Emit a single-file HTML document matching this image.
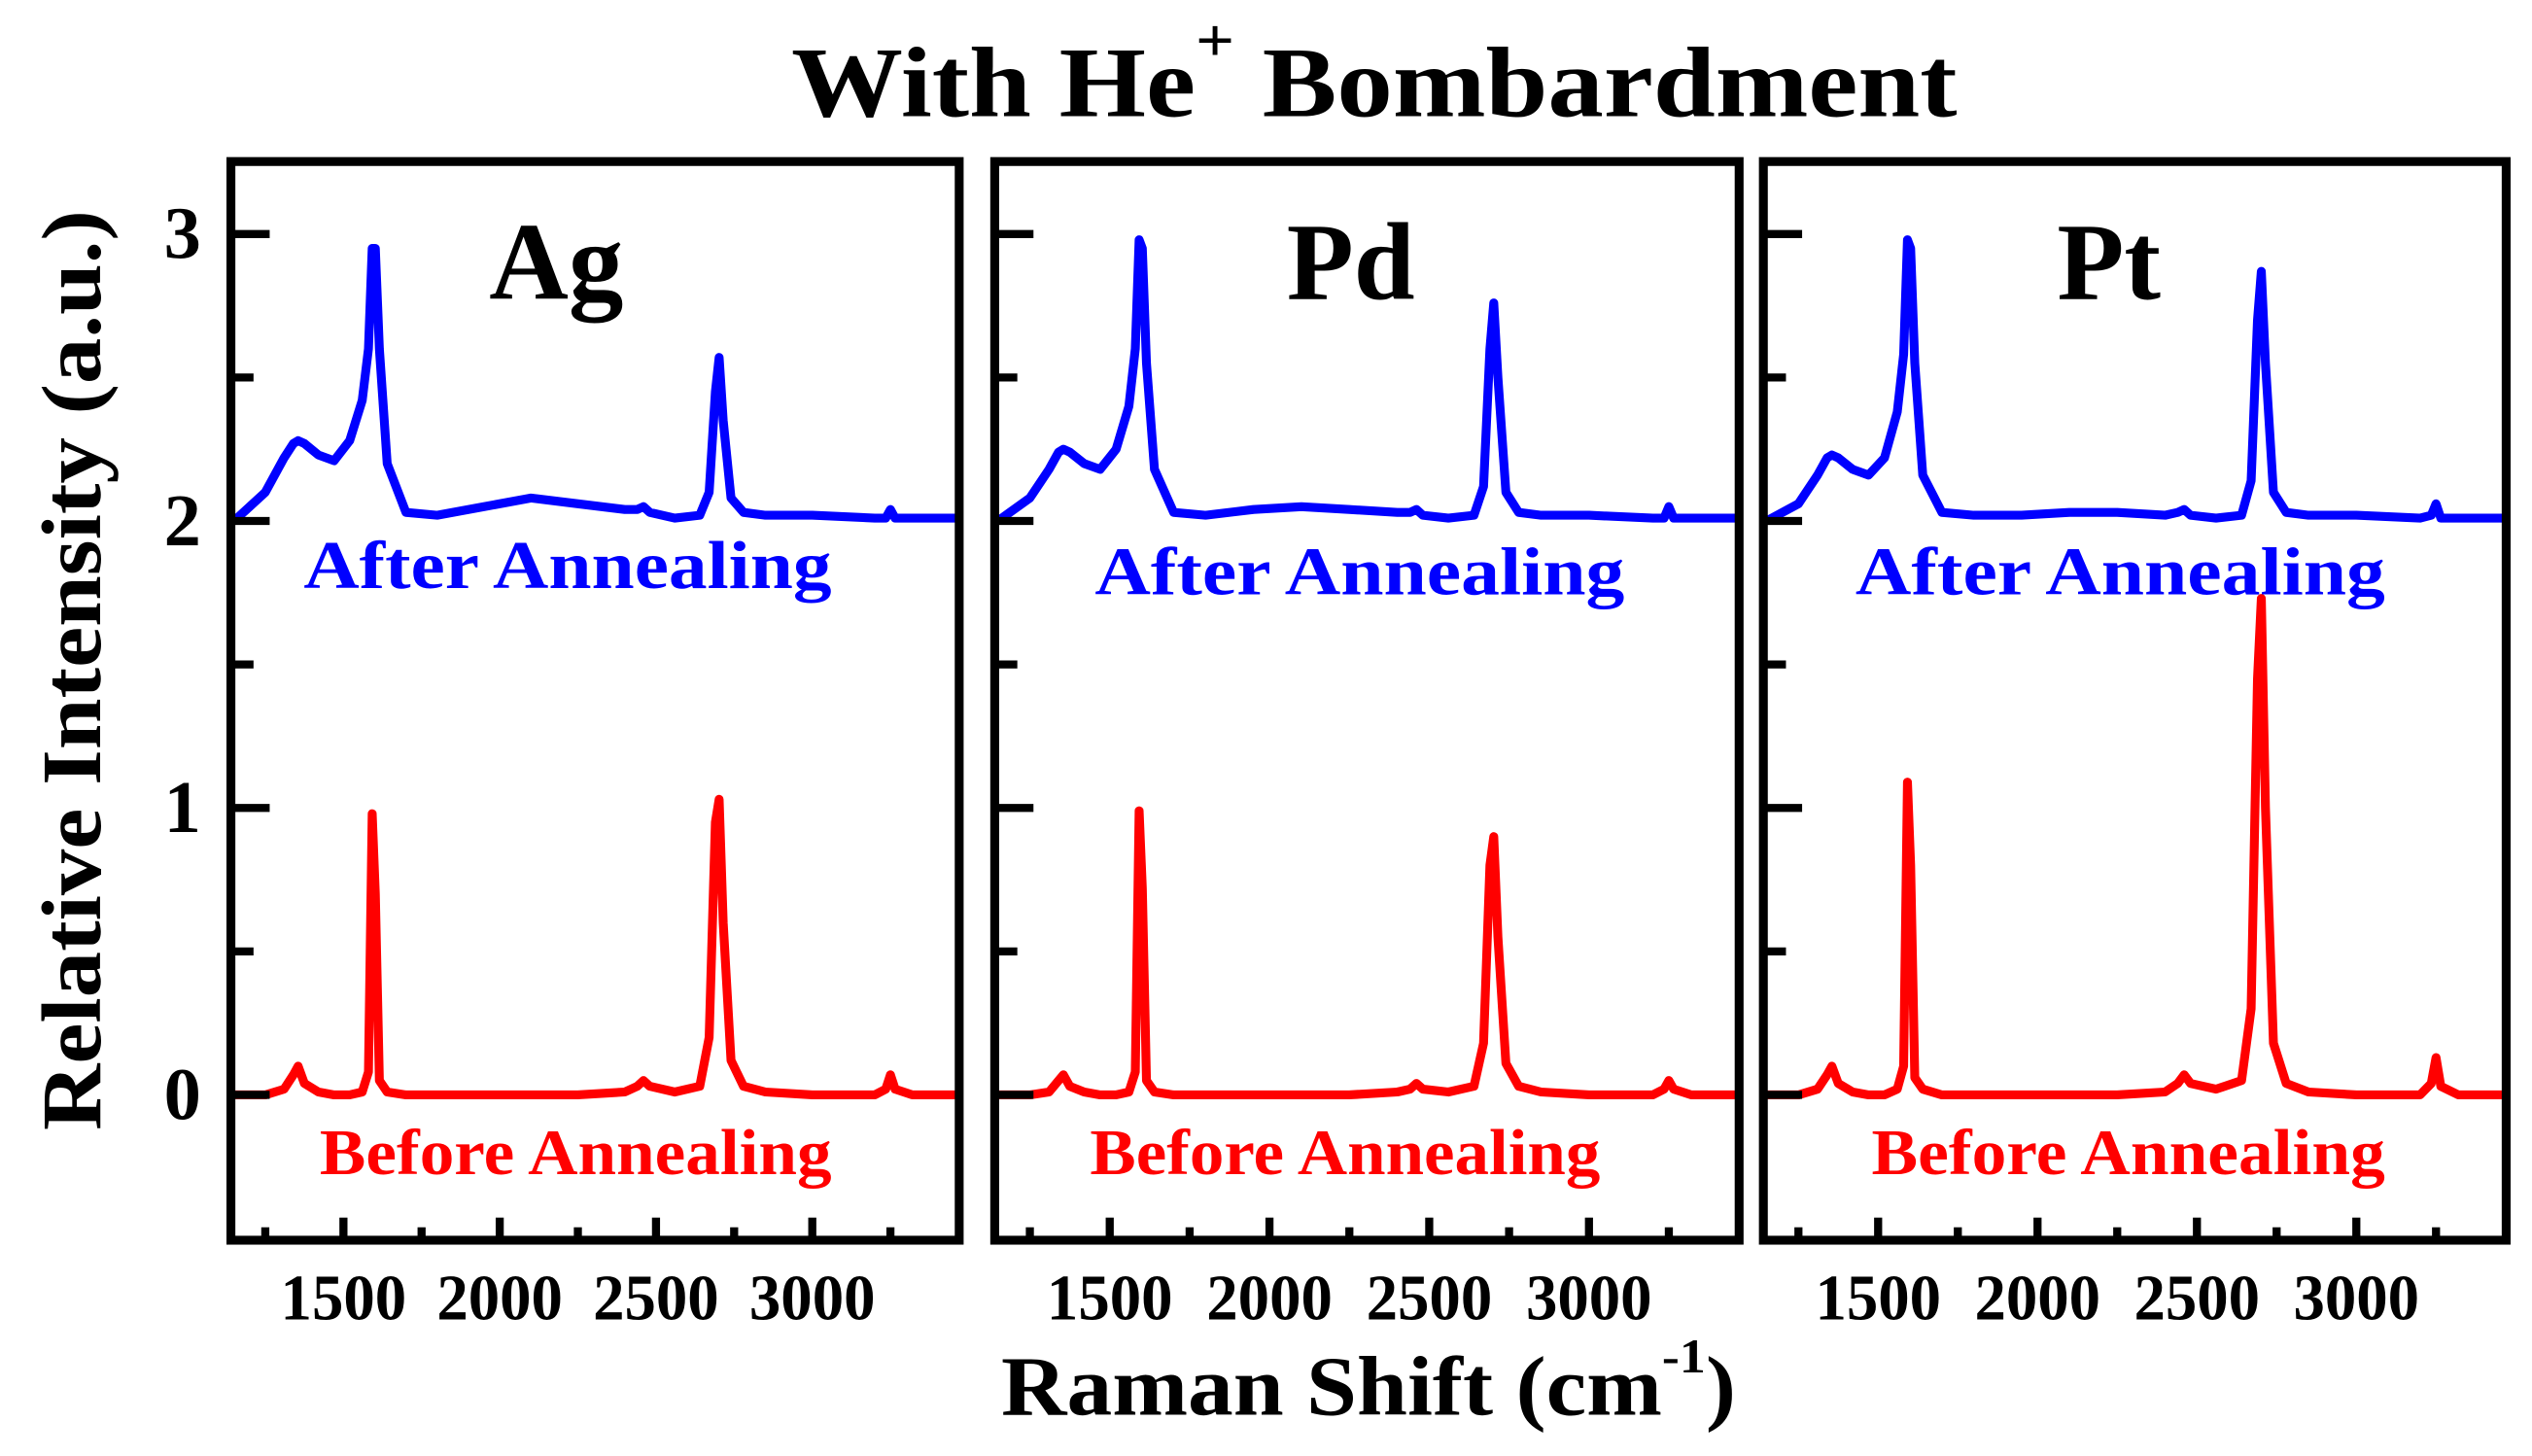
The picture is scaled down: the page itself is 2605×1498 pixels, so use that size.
<!DOCTYPE html>
<html><head><meta charset="utf-8"><style>
html,body{margin:0;padding:0;background:#fff;}
svg{display:block;}
text{font-family:"Liberation Serif",serif;font-weight:bold;}
</style></head><body>
<svg id="chart" width="2605" height="1498" viewBox="0 0 1568 901.6" xmlns="http://www.w3.org/2000/svg">
<rect width="1568" height="901.6" fill="#fff"/>
<text x="490" y="72" font-size="62" textLength="722" lengthAdjust="spacingAndGlyphs">With He<tspan dy="-34" font-size="38">+</tspan><tspan dy="34"> Bombardment</tspan></text>
<text transform="translate(62,700) rotate(-90)" font-size="52" textLength="570" lengthAdjust="spacingAndGlyphs">Relative Intensity (a.u.)</text>
<text x="620" y="876" font-size="52" textLength="455" lengthAdjust="spacingAndGlyphs">Raman Shift (cm<tspan dy="-26" font-size="30">-1</tspan><tspan dy="26">)</tspan></text>
<g id="panels"></g>
</svg>
<script>
const shifts = [1150,1250,1310,1340,1355,1375,1420,1470,1520,1560,1580,1592,1602,1615,1640,1700,1800,1950,2100,2250,2400,2440,2460,2480,2560,2640,2670,2690,2702,2715,2740,2780,2850,3000,3200,3235,3250,3265,3320,3470];
const agAfter = [2.00,2.10,2.22,2.27,2.28,2.27,2.23,2.21,2.28,2.42,2.60,2.95,2.95,2.60,2.20,2.03,2.02,2.05,2.08,2.06,2.04,2.04,2.05,2.03,2.01,2.02,2.10,2.45,2.57,2.35,2.08,2.03,2.02,2.02,2.01,2.01,2.04,2.01,2.01,2.01];
const agBefore = [0,0,0.02,0.07,0.10,0.04,0.01,0,0,0.01,0.08,0.98,0.70,0.05,0.01,0,0,0,0,0,0.01,0.03,0.05,0.03,0.01,0.03,0.20,0.95,1.03,0.60,0.12,0.03,0.01,0,0,0.02,0.07,0.02,0,0];
const pdAfter = [2.00,2.08,2.18,2.24,2.25,2.24,2.20,2.18,2.25,2.40,2.60,2.98,2.95,2.55,2.18,2.03,2.02,2.04,2.05,2.04,2.03,2.03,2.04,2.02,2.01,2.02,2.12,2.60,2.76,2.50,2.10,2.03,2.02,2.02,2.01,2.01,2.05,2.01,2.01,2.01];
const pdBefore = [0,0,0.01,0.05,0.07,0.03,0.01,0,0,0.01,0.08,0.99,0.72,0.05,0.01,0,0,0,0,0,0.01,0.02,0.04,0.02,0.01,0.03,0.18,0.80,0.90,0.55,0.11,0.03,0.01,0,0,0.02,0.05,0.02,0,0];
const ptAfter = [2.00,2.06,2.16,2.22,2.23,2.22,2.18,2.16,2.22,2.38,2.58,2.98,2.95,2.55,2.16,2.03,2.02,2.02,2.03,2.03,2.02,2.03,2.04,2.02,2.01,2.02,2.14,2.70,2.87,2.55,2.10,2.03,2.02,2.02,2.01,2.02,2.06,2.01,2.01,2.01];
const ptBefore = [0,0,0.02,0.07,0.10,0.04,0.01,0,0,0.02,0.10,1.09,0.80,0.06,0.02,0,0,0,0,0,0.01,0.04,0.07,0.04,0.02,0.05,0.30,1.45,1.73,1.00,0.18,0.04,0.01,0,0,0.04,0.13,0.03,0,0];
const panelNames = ["Ag","Pd","Pt"];
const xTickMajor = [1500,2000,2500,3000];
const xTickMinor = [1250,1750,2250,2750,3250];
const yTickMajor = [0,1,2,3];
const yTickMinor = [0.5,1.5,2.5];

const NS = "http://www.w3.org/2000/svg";
const panelsG = document.getElementById("panels");
const panels = [
  {x0:143,x1:594,after:agAfter,before:agBefore,aw:327,ax:188,bx:198,bw:317},
  {x0:616,x1:1077,after:pdAfter,before:pdBefore,aw:328,ax:678,bx:675,bw:316},
  {x0:1092,x1:1552,after:ptAfter,before:ptBefore,aw:328,ax:1149,bx:1159,bw:318}
];
const topY = 100, bottomY = 768;
const X_MIN = 1140, X_MAX = 3470;
function yScale(v){ return 678 - v*177.7; }
function mk(tag, attrs){ const e=document.createElementNS(NS,tag); for(const k in attrs) e.setAttribute(k,attrs[k]); return e; }

panels.forEach((p,i)=>{
  const xScale = v => p.x0 + (v - X_MIN)/(X_MAX - X_MIN)*(p.x1 - p.x0);
  const g = mk("g",{});
  
  
  panelsG.appendChild(g);
  [[p.after,"#0000ff","after-annealing-line"],[p.before,"#ff0000","before-annealing-line"]].forEach(([vals,col,nm])=>{
    let d="";
    vals.forEach((v,j)=>{ d += (j?"L":"M") + xScale(shifts[j]).toFixed(2) + " " + yScale(v).toFixed(2); });
    const path = mk("path",{d:d,fill:"none",stroke:col,"stroke-width":5.5,"stroke-linejoin":"round"});
    
    
    g.appendChild(path);
  });
  yTickMajor.forEach(v=>{
    const l = mk("line",{x1:p.x0,x2:p.x0+24,y1:yScale(v),y2:yScale(v),stroke:"#000","stroke-width":5});
    
    
    g.appendChild(l);
    if(i===0){
      const t = mk("text",{x:113,y:yScale(v)+15,"font-size":46,"text-anchor":"middle"});
      t.textContent = String(v);
      
      
      g.appendChild(t);
    }
  });
  yTickMinor.forEach(v=>{
    const l = mk("line",{x1:p.x0,x2:p.x0+14,y1:yScale(v),y2:yScale(v),stroke:"#000","stroke-width":5});
    
    
    g.appendChild(l);
  });
  xTickMajor.forEach(v=>{
    const l = mk("line",{x1:xScale(v),x2:xScale(v),y1:bottomY,y2:bottomY-14,stroke:"#000","stroke-width":5});
    
    
    g.appendChild(l);
    const t = mk("text",{x:xScale(v),y:817,"font-size":40,"text-anchor":"middle",textLength:78,lengthAdjust:"spacingAndGlyphs"});
    t.textContent = String(v);
    
    
    g.appendChild(t);
  });
  xTickMinor.forEach(v=>{
    const l = mk("line",{x1:xScale(v),x2:xScale(v),y1:bottomY,y2:bottomY-8,stroke:"#000","stroke-width":5});
    
    
    g.appendChild(l);
  });
  const fr = mk("rect",{x:p.x0,y:topY,width:p.x1-p.x0,height:bottomY-topY,fill:"none",stroke:"#000","stroke-width":5.5});
  
  
  g.appendChild(fr);
  const cx = (p.x0+p.x1)/2;
  const nm = mk("text",{x:cx+(i===0?-24:-10)+(i===2?-6:0),y:185,"font-size":68,"text-anchor":"middle"});
  nm.textContent = panelNames[i];
  
  
  g.appendChild(nm);
  const at = mk("text",{x:p.ax,y:i===0?364:368,"font-size":42,fill:"#0000ff",textLength:p.aw,lengthAdjust:"spacingAndGlyphs"});
  at.textContent = "After Annealing";
  
  
  g.appendChild(at);
  const bt = mk("text",{x:p.bx,y:727,"font-size":40,fill:"#ff0000",textLength:p.bw,lengthAdjust:"spacingAndGlyphs"});
  bt.textContent = "Before Annealing";
  
  
  g.appendChild(bt);
});
</script>
</body></html>
